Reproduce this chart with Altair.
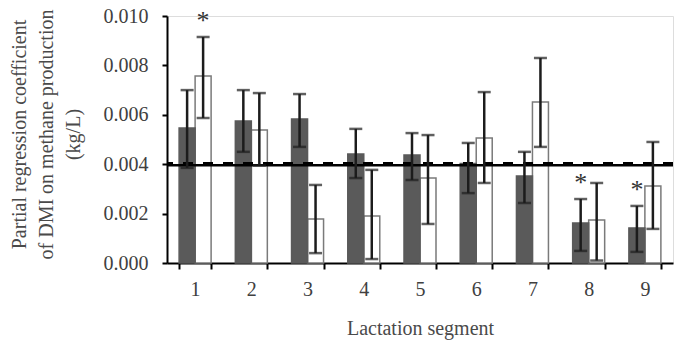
import altair as alt
import pandas as pd

segments = ["1", "2", "3", "4", "5", "6", "7", "8", "9"]
series_names = ["Grey", "White"]

grey_values = [0.00547, 0.00575, 0.00583, 0.00441, 0.00437, 0.00403, 0.00352, 0.00162, 0.00142]
grey_low = [0.00385, 0.00450, 0.00470, 0.00344, 0.00336, 0.00283, 0.00243, 0.00049, 0.00045]
grey_high = [0.00700, 0.00700, 0.00684, 0.00543, 0.00526, 0.00486, 0.00450, 0.00259, 0.00231]
grey_sig = [False, False, False, False, False, False, False, True, True]

white_values = [0.00757, 0.00538, 0.00178, 0.00190, 0.00344, 0.00506, 0.00652, 0.00174, 0.00312]
white_low = [0.00587, 0.00395, 0.00040, 0.00016, 0.00158, 0.00324, 0.00470, 0.00010, 0.00138]
white_high = [0.00915, 0.00688, 0.00316, 0.00377, 0.00518, 0.00692, 0.00830, 0.00324, 0.00490]
white_sig = [True, False, False, False, False, False, False, False, False]

ref_solid = [0.00396]
ref_dashed = [0.00402]

y_ticks = [0.0, 0.002, 0.004, 0.006, 0.008, 0.010]
y_title = ["Partial regression coefficient", "of DMI on methane production", "(kg/L)"]
x_title = "Lactation segment"

rows = []
for i, s in enumerate(segments):
    rows.append(dict(segment=s, series=series_names[0], value=grey_values[i],
                     lo=grey_low[i], hi=grey_high[i], sig=grey_sig[i]))
    rows.append(dict(segment=s, series=series_names[1], value=white_values[i],
                     lo=white_low[i], hi=white_high[i], sig=white_sig[i]))
df = pd.DataFrame(rows)

FONT = "Liberation Serif"
W, H = 506, 247
step = W / len(segments)
p_inner = 1 - 32 / step

x_enc = alt.X(
    "segment:N",
    sort=segments,
    scale=alt.Scale(paddingInner=p_inner, paddingOuter=p_inner / 2),
    axis=alt.Axis(
        title=x_title, labelAngle=0, tickBand="extent",
        domainColor="#000000", domainWidth=2, tickColor="#000000", tickWidth=2,
        tickSize=6, labelFont=FONT, labelFontSize=20, labelColor="#404040",
        labelPadding=10, titleFont=FONT, titleFontSize=20, titleFontWeight="normal",
        titleColor="#4a4a4a", titleY=71, titleBaseline="alphabetic",
    ),
)
xo_enc = alt.XOffset("series:N", sort=series_names,
                     scale=alt.Scale(domain=series_names, paddingInner=0, paddingOuter=0))
y_scale = alt.Scale(domain=[0, 0.010], nice=False)
y_axis = alt.Axis(
    values=y_ticks, format=".3f", title=y_title, grid=False,
    domainColor="#000000", domainWidth=2, tickColor="#000000", tickWidth=2,
    tickSize=5, labelFont=FONT, labelFontSize=20, labelColor="#404040",
    labelPadding=14, titleFont=FONT, titleFontSize=20, titleFontWeight="normal",
    titleColor="#4a4a4a", titleAngle=270, titleX=-142, titleY=118,
    titleAlign="center", titleBaseline="alphabetic", titleLineHeight=27,
)

base = alt.Chart(df)

white_bars = base.transform_filter(alt.datum.series == series_names[1]).mark_bar(
    fill="#ffffff", stroke="#7a7a7a", strokeWidth=1.5
).encode(x=x_enc, xOffset=xo_enc, y=alt.Y("value:Q", scale=y_scale, axis=y_axis))

grey_bars = base.transform_filter(alt.datum.series == series_names[0]).mark_bar(
    fill="#5a5a5a", stroke="#5a5a5a", strokeWidth=1.5
).encode(x=x_enc, xOffset=xo_enc, y=alt.Y("value:Q", scale=y_scale))

solid_line = alt.Chart(pd.DataFrame({"v": ref_solid})).mark_rule(
    color="#000000", strokeWidth=2.5
).encode(y=alt.Y("v:Q", scale=y_scale))

dashed_line = alt.Chart(pd.DataFrame({"v": ref_dashed})).mark_rule(
    color="#000000", strokeWidth=3.5, strokeDash=[10, 10]
).encode(y=alt.Y("v:Q", scale=y_scale))

err_rules = base.mark_rule(color="#1c1c1c", strokeWidth=2.5).encode(
    x=x_enc, xOffset=xo_enc, y=alt.Y("lo:Q", scale=y_scale), y2="hi:Q"
)
cap_lo = base.mark_tick(color="#1c1c1c", thickness=2.5, size=13).encode(
    x=x_enc, xOffset=xo_enc, y=alt.Y("lo:Q", scale=y_scale)
)
cap_hi = base.mark_tick(color="#1c1c1c", thickness=2.5, size=13).encode(
    x=x_enc, xOffset=xo_enc, y=alt.Y("hi:Q", scale=y_scale)
)

stars = base.transform_filter(alt.datum.sig).mark_text(
    text="*", font=FONT, fontSize=26, color="#333333", baseline="alphabetic", dy=-8
).encode(x=x_enc, xOffset=xo_enc, y=alt.Y("hi:Q", scale=y_scale))

chart = alt.layer(
    white_bars, grey_bars, solid_line, dashed_line, err_rules, cap_lo, cap_hi, stars
).properties(
    width=W, height=H,
    autosize=alt.AutoSizeParams(type="none"),
    padding={"left": 167, "top": 16, "right": 1, "bottom": 78},
).configure_view(stroke=None).configure(background="#ffffff")

chart.save("out.html", embed_options={"renderer": "svg", "actions": False})
